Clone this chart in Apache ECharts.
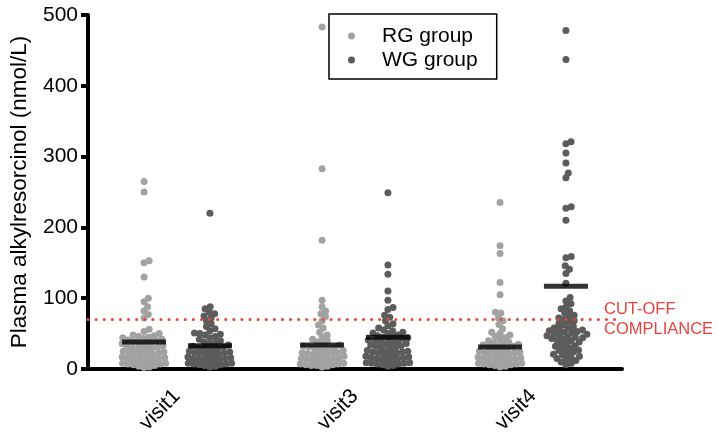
<!DOCTYPE html>
<html>
<head>
<meta charset="utf-8">
<script src="https://cdn.jsdelivr.net/npm/echarts@6/dist/echarts.min.js"></script>
<style>
  html, body { margin: 0; padding: 0; background: #fff; }
  #chart { width: 719px; height: 433px; }
</style>
</head>
<body>
<div id="chart"></div>
<script>
var categories = ['visit1', 'visit3', 'visit4'];
var groupNames = ['RG group', 'WG group'];

// values (nmol/L)
var rgVisit1 = [265, 250, 153, 150, 130, 100, 95, 88, 82, 77, 72, 56, 53, 50, 48, 47, 46, 45, 44, 43, 42, 41, 40, 39, 38, 37, 36, 36, 35, 34, 33, 33, 32, 31, 31, 30, 30, 29, 28, 28, 27, 27, 26, 25, 25, 24, 24, 23, 23, 22, 22, 21, 21, 20, 20, 19, 19, 18, 18, 17, 17, 16, 16, 15, 15, 14, 14, 13, 13, 12, 12, 11, 11, 10, 10, 9, 9, 8, 8, 7, 7, 6, 5, 4, 3, 2];
var wgVisit1 = [220, 88, 85, 80, 78, 75, 72, 68, 64, 60, 57, 54, 51, 50, 49, 48, 46, 44, 42, 40, 38, 37, 36, 35, 34, 33, 32, 31, 30, 30, 29, 28, 28, 27, 26, 26, 25, 25, 24, 24, 23, 23, 22, 22, 21, 21, 20, 20, 19, 19, 18, 18, 17, 17, 16, 16, 15, 15, 14, 14, 13, 13, 12, 12, 11, 11, 10, 10, 9, 9, 8, 8, 7, 7, 6, 6, 5, 4, 3];
var rgVisit3 = [483, 283, 182, 97, 88, 82, 78, 74, 68, 62, 58, 52, 48, 45, 42, 40, 38, 36, 35, 34, 33, 32, 31, 30, 30, 29, 28, 28, 27, 27, 26, 26, 25, 25, 24, 24, 23, 23, 22, 22, 21, 21, 20, 20, 19, 19, 18, 18, 17, 17, 16, 16, 15, 15, 14, 14, 13, 13, 12, 12, 11, 11, 10, 10, 9, 9, 8, 8, 7, 7, 6, 6, 5, 5, 4, 3];
var wgVisit3 = [249, 147, 134, 110, 97, 87, 84, 76, 73, 68, 64, 61, 58, 55, 54, 52, 51, 50, 48, 47, 46, 45, 44, 43, 42, 41, 40, 39, 38, 37, 36, 35, 34, 33, 32, 31, 30, 30, 29, 28, 28, 27, 26, 26, 25, 25, 24, 24, 23, 23, 22, 22, 21, 21, 20, 20, 19, 19, 18, 18, 17, 17, 16, 16, 15, 15, 14, 14, 13, 13, 12, 12, 11, 11, 10, 10, 9, 9, 8, 8, 7, 7, 6, 5, 4];
var rgVisit4 = [235, 174, 163, 122, 105, 80, 79, 72, 68, 63, 57, 52, 50, 48, 46, 44, 42, 40, 38, 37, 36, 35, 34, 33, 32, 31, 30, 29, 28, 28, 27, 26, 26, 25, 25, 24, 24, 23, 23, 22, 22, 21, 21, 20, 20, 19, 19, 18, 18, 17, 17, 16, 16, 15, 15, 14, 14, 13, 13, 12, 12, 11, 11, 10, 10, 9, 9, 8, 8, 7, 7, 6, 6, 5, 4, 3];
var wgVisit4 = [478, 437, 321, 318, 305, 291, 277, 270, 229, 227, 210, 159, 157, 146, 141, 135, 121, 101, 96, 92, 88, 85, 82, 79, 76, 74, 72, 70, 68, 66, 64, 62, 60, 58, 57, 56, 55, 54, 53, 52, 51, 50, 49, 48, 47, 46, 45, 44, 43, 42, 41, 40, 38, 36, 35, 33, 32, 30, 29, 27, 26, 24, 23, 21, 20, 18, 17, 15, 14, 12, 10, 8, 6];
var rgMeans = [38, 34, 31];
var wgMeans = [33, 45, 117];
var cutOff = 70;

var rgValues = [rgVisit1, rgVisit3, rgVisit4];
var wgValues = [wgVisit1, wgVisit3, wgVisit4];

var RG_COLOR = '#a2a2a2';
var WG_COLOR = '#5c5c5c';
var FONT = '"Liberation Sans", Arial, sans-serif';
var GROUP_SHIFT = 0.185;   // half distance between the two groups, in category units
var DOT = 5.5;             // collision distance for the swarm, px
var MAX_HALF = 22;         // max half width of a swarm, px

var myChart = echarts.init(document.getElementById('chart'));

var baseOption = {
    animation: false,
    textStyle: { fontFamily: FONT },
    grid: { left: 88, right: 97, top: 15, bottom: 64, outerBoundsMode: 'none', containLabel: false },
    legend: {
        data: groupNames,
        orient: 'vertical',
        left: 329,
        top: 14,
        padding: [10, 19, 7, 19],
        itemGap: 0,
        itemWidth: 7,
        itemHeight: 7,
        borderColor: '#000',
        borderWidth: 1.5,
        textStyle: { fontSize: 21, color: '#000', lineHeight: 24, padding: [0, 0, 0, 22], fontFamily: FONT }
    },
    xAxis: [{
        type: 'category',
        data: categories,
        boundaryGap: true,
        axisLine: { lineStyle: { color: '#000', width: 4 } },
        axisTick: { alignWithLabel: true, length: 7, lineStyle: { color: '#000', width: 4 } },
        axisLabel: { rotate: 45, fontSize: 21, color: '#000', margin: 24, fontFamily: FONT },
        splitLine: { show: false }
    }, {
        type: 'value',
        min: 0,
        max: 3,
        show: false
    }],
    yAxis: {
        type: 'value',
        min: 0,
        max: 500,
        interval: 100,
        name: 'Plasma alkylresorcinol (nmol/L)',
        nameLocation: 'middle',
        nameGap: 57,
        nameTextStyle: { fontSize: 22.5, color: '#000', fontFamily: FONT },
        axisLine: { show: true, lineStyle: { color: '#000', width: 4 } },
        axisTick: { show: true, length: 7, lineStyle: { color: '#000', width: 4 } },
        axisLabel: { fontSize: 21, color: '#000', margin: 10, fontFamily: FONT },
        splitLine: { show: false }
    },
    series: []
};
myChart.setOption(baseOption);

// beeswarm: spread points sideways so they do not overlap
function swarm(values, center){
    var centerPx = myChart.convertToPixel({xAxisIndex: 1}, center);
    var sorted = values.slice().sort(function(a, b){ return a - b; });
    var placed = [];
    var out = [];
    for(var i = 0; i < sorted.length; i++){
        var v = sorted[i];
        var py = myChart.convertToPixel({yAxisIndex: 0}, v);
        var cands = [0];
        for(var j = 0; j < placed.length; j++){
            var dy = Math.abs(placed[j].y - py);
            if(dy < DOT){
                var w = Math.sqrt(DOT * DOT - dy * dy);
                cands.push(placed[j].x + w, placed[j].x - w);
            }
        }
        cands.sort(function(a, b){ return Math.abs(a) - Math.abs(b); });
        var dx = 0;
        for(var k = 0; k < cands.length; k++){
            var c = cands[k];
            var ok = placed.every(function(p){
                return (p.x - c) * (p.x - c) + (p.y - py) * (p.y - py) >= DOT * DOT - 0.01;
            });
            if(ok){ dx = c; break; }
        }
        if(Math.abs(dx) > MAX_HALF){
            dx = (dx > 0 ? 1 : -1) * ((Math.abs(dx) % MAX_HALF));
        }
        placed.push({x: dx, y: py});
        out.push([myChart.convertFromPixel({xAxisIndex: 1}, centerPx + dx), v]);
    }
    return out;
}

var rgData = [], wgData = [], meanData = [];
for(var i = 0; i < categories.length; i++){
    rgData = rgData.concat(swarm(rgValues[i], i + 0.5 - GROUP_SHIFT));
    wgData = wgData.concat(swarm(wgValues[i], i + 0.5 + GROUP_SHIFT));
    meanData.push([i + 0.5 - GROUP_SHIFT, rgMeans[i]]);
    meanData.push([i + 0.5 + GROUP_SHIFT, wgMeans[i]]);
}

myChart.setOption({
    series: [{
        name: 'RG group',
        type: 'scatter',
        xAxisIndex: 1,
        symbol: 'circle',
        symbolSize: 7,
        itemStyle: { color: RG_COLOR, opacity: 1 },
        data: rgData,
        markLine: {
            silent: true,
            symbol: 'none',
            lineStyle: { color: '#e8443f', type: [0.1, 8], cap: 'round', width: 3 },
            label: {
                show: true,
                position: 'end',
                formatter: 'CUT-OFF\nCOMPLIANCE',
                color: '#e8443f',
                fontSize: 16.5,
                lineHeight: 20,
                fontFamily: FONT,
                align: 'left',
                offset: [-23, 0]
            },
            data: [{ yAxis: cutOff }]
        }
    }, {
        name: 'WG group',
        type: 'scatter',
        xAxisIndex: 1,
        symbol: 'circle',
        symbolSize: 7,
        itemStyle: { color: WG_COLOR, opacity: 1 },
        data: wgData
    }, {
        name: 'mean',
        type: 'scatter',
        xAxisIndex: 1,
        symbol: 'rect',
        symbolSize: [44, 5],
        z: 5,
        itemStyle: { color: '#000' },
        data: meanData
    }]
});
</script>
</body>
</html>
